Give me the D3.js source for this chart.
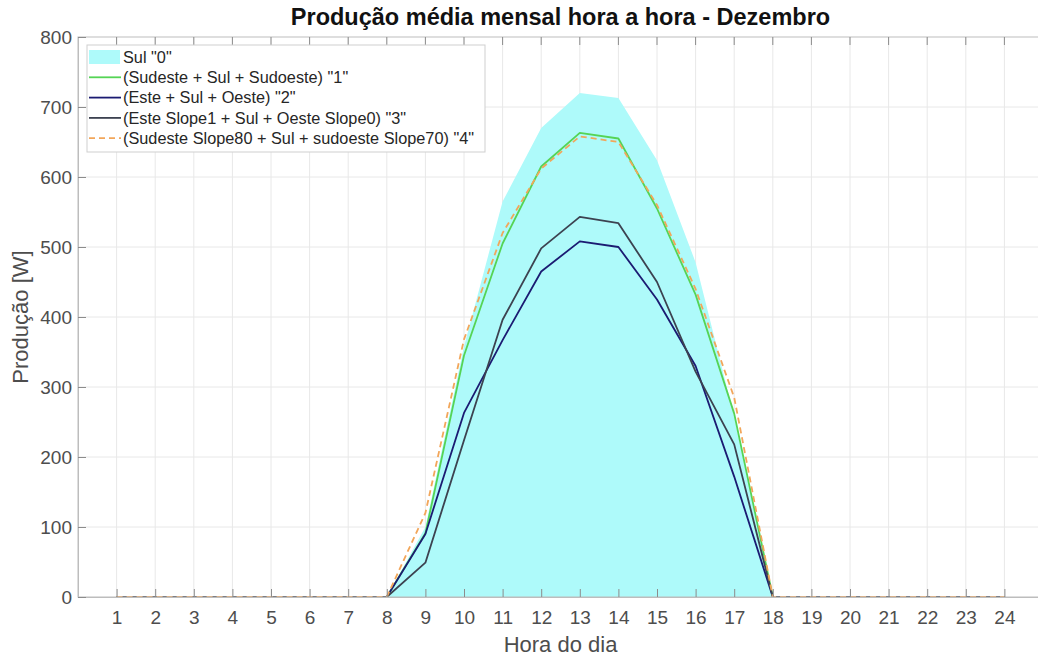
<!DOCTYPE html>
<html>
<head>
<meta charset="utf-8">
<script src="https://cdn.jsdelivr.net/npm/d3@7"></script>
<style>
  body { margin: 0; background: #fff; }
  text { font-family: "Liberation Sans", Arial, Helvetica, sans-serif; }
</style>
</head>
<body>
<svg id="chart" width="1038" height="657"></svg>
<script>
// Hour of day (x categories)
const hours = [1, 2, 3, 4, 5, 6, 7, 8, 9, 10, 11, 12, 13, 14, 15, 16, 17, 18, 19, 20, 21, 22, 23, 24];

// Mean hourly production [W] per configuration
const sul0     = [0, 0, 0, 0, 0, 0, 0, 0, 100, 358, 565, 670, 720, 713, 624, 478, 258, 0, 0, 0, 0, 0, 0, 0];
const config1  = [0, 0, 0, 0, 0, 0, 0, 0,  91, 345, 505, 615, 663, 655, 555, 432, 262, 0, 0, 0, 0, 0, 0, 0];
const config2  = [0, 0, 0, 0, 0, 0, 0, 0,  90, 263, 367, 465, 508, 500, 425, 330, 172, 0, 0, 0, 0, 0, 0, 0];
const config3  = [0, 0, 0, 0, 0, 0, 0, 0,  49, 224, 396, 498, 543, 534, 450, 322, 218, 0, 0, 0, 0, 0, 0, 0];
const config4  = [0, 0, 0, 0, 0, 0, 0, 0, 120, 368, 520, 612, 658, 650, 560, 440, 285, 0, 0, 0, 0, 0, 0, 0];

const seriesNames = [
  'Sul "0"',
  '(Sudeste + Sul + Sudoeste) "1"',
  '(Este + Sul + Oeste) "2"',
  '(Este Slope1 + Sul + Oeste Slope0) "3"',
  '(Sudeste Slope80 + Sul + sudoeste Slope70) "4"'
];
const yTicks = [0, 100, 200, 300, 400, 500, 600, 700, 800];

const titleText = "Produção média mensal hora a hora - Dezembro";
const xLabelText = "Hora do dia";
const yLabelText = "Produção [W]";

// ---- layout ----
const svg = d3.select("#chart");
const pLeft = 78, pRight = 1043, pTop = 37, pBottom = 597;

const x = d3.scaleLinear().domain([0, 25]).range([pLeft, pRight]);
const y = d3.scaleLinear().domain([0, 800]).range([pBottom, pTop]);

svg.append("defs").append("clipPath").attr("id", "plotClip")
  .append("rect").attr("x", pLeft).attr("y", pTop)
  .attr("width", pRight - pLeft).attr("height", pBottom - pTop);

// grid
const grid = svg.append("g");
grid.selectAll("line.vx").data(hours).join("line")
  .attr("class", "vx")
  .attr("x1", d => x(d)).attr("x2", d => x(d))
  .attr("y1", pTop).attr("y2", pBottom)
  .attr("stroke", "#e8e8e8").attr("stroke-width", 1);
grid.selectAll("line.hy").data(yTicks.slice(1, -1)).join("line")
  .attr("class", "hy")
  .attr("x1", pLeft).attr("x2", pRight)
  .attr("y1", d => y(d)).attr("y2", d => y(d))
  .attr("stroke", "#e8e8e8").attr("stroke-width", 1);

// series
const plot = svg.append("g").attr("clip-path", "url(#plotClip)");

const area = d3.area()
  .x((d, i) => x(hours[i]))
  .y0(y(0))
  .y1(d => y(d));
plot.append("path").datum(sul0)
  .attr("d", area)
  .attr("fill", "#aefafa");

const line = d3.line().x((d, i) => x(hours[i])).y(d => y(d));

const lineStyles = [
  { data: config1, color: "#55d455", dash: null },
  { data: config2, color: "#1b1b72", dash: null },
  { data: config3, color: "#3c4250", dash: null },
  { data: config4, color: "#f2a65a", dash: "6,4" }
];
lineStyles.forEach(s => {
  plot.append("path").datum(s.data)
    .attr("d", line)
    .attr("fill", "none")
    .attr("stroke", s.color)
    .attr("stroke-width", 1.8)
    .attr("stroke-dasharray", s.dash)
    .attr("stroke-linejoin", "round");
});

// axes box
const axisColor = "#bdbdbd";
svg.append("rect")
  .attr("x", pLeft).attr("y", pTop)
  .attr("width", pRight - pLeft).attr("height", pBottom - pTop)
  .attr("fill", "none").attr("stroke", axisColor).attr("stroke-width", 1);

// axes with inward ticks
const xAxis = d3.axisBottom(x).tickValues(hours).tickSize(-8).tickPadding(14).tickFormat(d3.format("d"));
const gx = svg.append("g").attr("transform", `translate(0,${pBottom})`).call(xAxis);
const yAxis = d3.axisLeft(y).tickValues(yTicks).tickSize(-8).tickPadding(6).tickFormat(d3.format("d"));
const gy = svg.append("g").attr("transform", `translate(${pLeft},0)`).call(yAxis);
[gx, gy].forEach(g => {
  g.select(".domain").attr("stroke", axisColor);
  g.selectAll(".tick line").attr("stroke", "#8c8c8c");
  g.selectAll(".tick text").attr("fill", "#4d4d4d").attr("font-size", 19)
    .attr("font-family", "'Liberation Sans', Arial, sans-serif");
});

// top ticks
svg.append("g").selectAll("line").data(hours).join("line")
  .attr("x1", d => x(d)).attr("x2", d => x(d))
  .attr("y1", pTop).attr("y2", pTop + 8)
  .attr("stroke", "#8c8c8c");

// titles
svg.append("text")
  .attr("x", (pLeft + pRight) / 2).attr("y", 25)
  .attr("text-anchor", "middle").attr("font-weight", "bold")
  .attr("font-size", 23.5).attr("fill", "#111")
  .text(titleText);
svg.append("text")
  .attr("x", (pLeft + pRight) / 2).attr("y", 652)
  .attr("text-anchor", "middle")
  .attr("font-size", 22).attr("fill", "#4d4d4d")
  .text(xLabelText);
svg.append("text")
  .attr("transform", `translate(28,${(pTop + pBottom) / 2}) rotate(-90)`)
  .attr("text-anchor", "middle")
  .attr("font-size", 22).attr("fill", "#4d4d4d")
  .text(yLabelText);

// legend
const lg = svg.append("g");
lg.append("rect")
  .attr("x", 87).attr("y", 45).attr("width", 398).attr("height", 107)
  .attr("fill", "#fff").attr("stroke", "#cfcfcf");
const rowY = i => 57 + i * 20.3;
lg.append("rect")
  .attr("x", 89).attr("y", rowY(0) - 7).attr("width", 31).attr("height", 14)
  .attr("fill", "#aefafa");
lineStyles.forEach((s, i) => {
  lg.append("line")
    .attr("x1", 89).attr("x2", 121)
    .attr("y1", rowY(i + 1)).attr("y2", rowY(i + 1))
    .attr("stroke", s.color).attr("stroke-width", 1.8)
    .attr("stroke-dasharray", s.dash);
});
seriesNames.forEach((name, i) => {
  lg.append("text")
    .attr("x", 123).attr("y", rowY(i)).attr("dy", "0.35em")
    .attr("font-size", 16.3).attr("fill", "#262626")
    .text(name);
});
</script>
</body>
</html>
